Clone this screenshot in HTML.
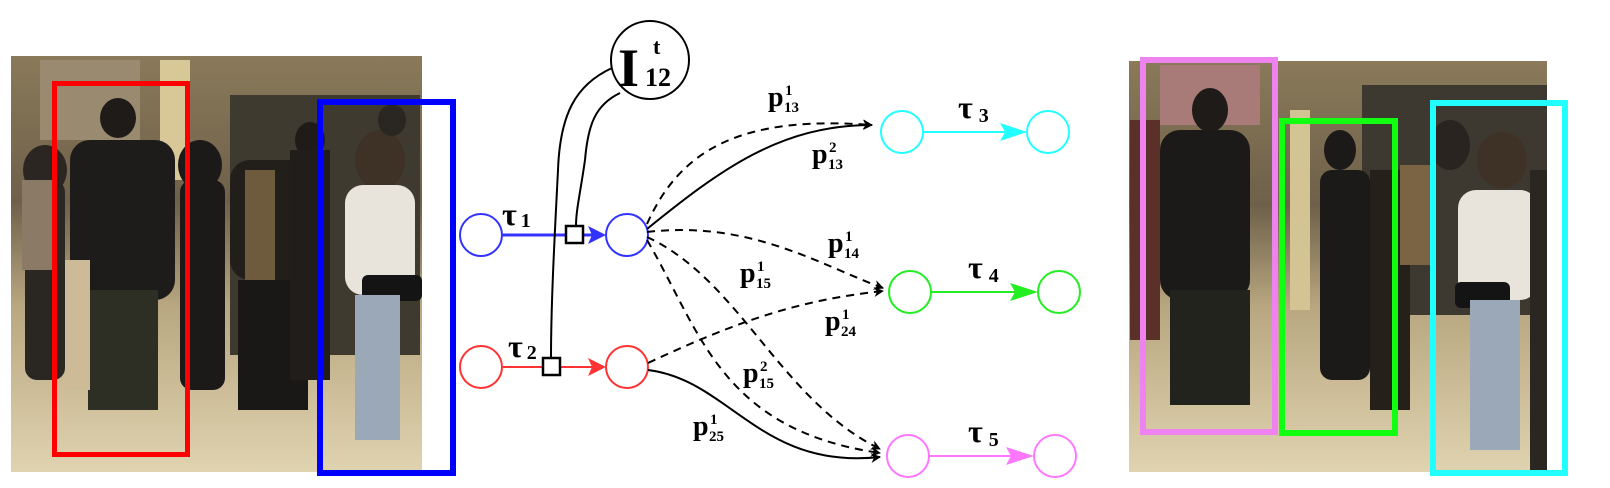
<!DOCTYPE html>
<html><head><meta charset="utf-8"><style>
html,body{margin:0;padding:0;background:#fff;width:1610px;height:488px;overflow:hidden}
svg{display:block}
text{font-family:"Liberation Serif",serif;font-weight:bold;fill:#000}
</style></head><body>
<svg width="1610" height="488" viewBox="0 0 1610 488" xmlns="http://www.w3.org/2000/svg">
<defs>
<linearGradient id="bg" x1="0" y1="0" x2="0" y2="1">
<stop offset="0" stop-color="#8a7a5a"/><stop offset="0.35" stop-color="#6e604a"/><stop offset="0.6" stop-color="#b8a780"/><stop offset="1" stop-color="#e0d3b0"/>
</linearGradient>
<marker id="ab" markerWidth="10" markerHeight="10" refX="9" refY="5" orient="auto" markerUnits="userSpaceOnUse"><path d="M0,0 L10,5 L0,10 L3,5z" fill="#000"/></marker>
</defs>

<rect x="11" y="56" width="411" height="416" fill="url(#bg)"/>
<rect x="40" y="60" width="100" height="80" fill="#9a8a70"/>
<rect x="230" y="95" width="190" height="260" fill="#3f3a30"/>
<rect x="160" y="60" width="30" height="120" fill="#d8c898"/>
<ellipse cx="45" cy="170" rx="22" ry="25" fill="#2c2622"/>
<rect x="25" y="180" width="40" height="200" rx="12" fill="#2a2622"/>
<rect x="22" y="180" width="30" height="90" fill="#8a7a66"/>
<ellipse cx="118" cy="118" rx="18" ry="20" fill="#1e1b18"/>
<rect x="70" y="140" width="105" height="160" rx="20" fill="#1e1c1a"/>
<rect x="88" y="290" width="70" height="120" fill="#2d2f24"/>
<rect x="65" y="260" width="25" height="130" fill="#cdbb98"/>
<ellipse cx="200" cy="165" rx="22" ry="25" fill="#1c1a18"/>
<rect x="180" y="180" width="45" height="210" rx="12" fill="#1c1a18"/>
<rect x="230" y="160" width="90" height="120" rx="20" fill="#221e1a"/>
<rect x="245" y="170" width="30" height="110" fill="#6e5a3c"/>
<rect x="238" y="280" width="70" height="130" fill="#1a1817"/>
<ellipse cx="310" cy="140" rx="15" ry="18" fill="#1e1b18"/>
<rect x="290" y="150" width="40" height="230" fill="#201d1a"/>
<ellipse cx="380" cy="160" rx="25" ry="30" fill="#3e3226"/>
<rect x="345" y="185" width="70" height="110" rx="18" fill="#e8e4dc"/>
<rect x="362" y="275" width="60" height="26" rx="6" fill="#141414"/>
<rect x="355" y="295" width="45" height="145" fill="#9aa8b8"/>
<ellipse cx="392" cy="120" rx="14" ry="16" fill="#2a2622"/>
<rect x="54.5" y="83.5" width="133" height="371" fill="none" stroke="#f00" stroke-width="5"/>
<rect x="320" y="102" width="133" height="371" fill="none" stroke="#00f" stroke-width="6"/>

<rect x="1129" y="61" width="418" height="411" fill="url(#bg)"/>
<rect x="1160" y="65" width="100" height="60" fill="#a87a78"/>
<rect x="1362" y="85" width="185" height="230" fill="#3d3830"/>
<rect x="1290" y="110" width="20" height="200" fill="#d4c494"/>
<rect x="1130" y="120" width="30" height="220" fill="#5a3028"/>
<ellipse cx="1210" cy="110" rx="18" ry="22" fill="#1e1b18"/>
<rect x="1160" y="130" width="90" height="170" rx="20" fill="#1c1a18"/>
<rect x="1170" y="290" width="80" height="115" fill="#23231d"/>
<ellipse cx="1340" cy="150" rx="16" ry="20" fill="#1c1a18"/>
<rect x="1320" y="170" width="50" height="210" rx="12" fill="#1c1a18"/>
<rect x="1370" y="170" width="40" height="240" fill="#252019"/>
<rect x="1400" y="165" width="30" height="100" fill="#7a6444"/>
<ellipse cx="1450" cy="145" rx="20" ry="25" fill="#2a2420"/>
<ellipse cx="1502" cy="160" rx="25" ry="28" fill="#3e3226"/>
<rect x="1458" y="190" width="80" height="110" rx="18" fill="#e8e4dc"/>
<rect x="1455" y="282" width="55" height="26" rx="6" fill="#141414"/>
<rect x="1470" y="300" width="50" height="150" fill="#9aa8b8"/>
<rect x="1530" y="170" width="17" height="300" fill="#2a2622"/>
<rect x="1143" y="60" width="132" height="372" fill="none" stroke="#ee82ee" stroke-width="6"/>
<rect x="1282" y="121" width="113" height="312" fill="none" stroke="#1f1" stroke-width="6"/>
<rect x="1433" y="103" width="132" height="370" fill="none" stroke="#2ff" stroke-width="6"/>

<g fill="none" stroke-width="2">
<circle cx="481" cy="235" r="21" stroke="#33f"/>
<circle cx="627" cy="235" r="21" stroke="#33f"/>
<circle cx="481" cy="367" r="21" stroke="#f33"/>
<circle cx="627" cy="367" r="21" stroke="#f33"/>
<circle cx="902" cy="132" r="21" stroke="#2ff"/>
<circle cx="1048" cy="132" r="21" stroke="#2ff"/>
<circle cx="910" cy="292" r="21" stroke="#2e2"/>
<circle cx="1059" cy="292" r="21" stroke="#2e2"/>
<circle cx="908" cy="456" r="21" stroke="#f7f"/>
<circle cx="1055" cy="456" r="21" stroke="#f7f"/>
<line x1="502" y1="235" x2="596" y2="235" stroke="#33f" stroke-width="3"/>
<line x1="502" y1="367" x2="596" y2="367" stroke="#f33"/>
<line x1="923" y1="132" x2="1017" y2="132" stroke="#2ff"/>
<line x1="931" y1="292" x2="1028" y2="292" stroke="#2e2"/>
<line x1="929" y1="456" x2="1024" y2="456" stroke="#f7f"/>
</g>
<path d="M588,226 L606,235 L588,244 L592,235z" fill="#33f"/>
<path d="M588,358 L606,367 L588,376 L592,367z" fill="#f33"/>
<path d="M1000,123 L1027,132 L1000,141 L1005,132z" fill="#2ff"/>
<path d="M1010,283 L1038,292 L1010,301 L1015,292z" fill="#2e2"/>
<path d="M1006,447 L1034,456 L1006,465 L1011,456z" fill="#f7f"/>

<circle cx="650" cy="60" r="39" fill="#fff" stroke="#000" stroke-width="2"/>
<g fill="none" stroke="#000" stroke-width="2">
<path d="M612,68 C575,85 560,115 558,170 C555,230 551,300 551,358"/>
<path d="M620,93 C595,105 588,125 585,160 C580,195 576,210 576,226"/>
</g>
<rect x="566" y="226" width="17" height="17" fill="#fff" stroke="#000" stroke-width="2.5"/>
<rect x="543" y="358" width="17" height="17" fill="#fff" stroke="#000" stroke-width="2.5"/>
<text x="618" y="86" font-size="54">I</text>
<text x="653" y="54" font-size="22">t</text>
<text x="645" y="86" font-size="26">12</text>

<g fill="none" stroke="#000" stroke-width="2" marker-end="url(#ab)">
<path d="M647,224 C680,150 740,115 872,125" stroke-dasharray="8,6"/>
<path d="M647,229 C720,170 780,125 872,125"/>
<path d="M647,232 C750,220 820,265 883,288" stroke-dasharray="8,6"/>
<path d="M647,237 C740,280 780,400 880,449" stroke-dasharray="8,6"/>
<path d="M647,240 C700,330 720,430 880,453" stroke-dasharray="8,6"/>
<path d="M648,363 C740,320 800,300 883,291" stroke-dasharray="8,6"/>
<path d="M648,370 C730,380 760,470 880,457"/>
</g>

<g font-size="32">
<text x="502" y="225">τ<tspan font-size="20" dx="4" dy="2">1</tspan></text>
<text x="508" y="357">τ<tspan font-size="20" dx="4" dy="2">2</tspan></text>
<text x="958" y="118">τ<tspan font-size="20" dx="6" dy="4">3</tspan></text>
<text x="968" y="278">τ<tspan font-size="20" dx="6" dy="4">4</tspan></text>
<text x="968" y="442">τ<tspan font-size="20" dx="6" dy="4">5</tspan></text>
</g>
<g font-size="28">
<text x="768" y="106">p</text><text x="785" y="95" font-size="15">1</text><text x="784" y="112" font-size="15">13</text>
<text x="812" y="163">p</text><text x="829" y="152" font-size="15">2</text><text x="828" y="169" font-size="15">13</text>
<text x="828" y="252">p</text><text x="845" y="241" font-size="15">1</text><text x="844" y="258" font-size="15">14</text>
<text x="740" y="282">p</text><text x="757" y="271" font-size="15">1</text><text x="756" y="288" font-size="15">15</text>
<text x="825" y="330">p</text><text x="842" y="319" font-size="15">1</text><text x="841" y="336" font-size="15">24</text>
<text x="743" y="382">p</text><text x="760" y="371" font-size="15">2</text><text x="759" y="388" font-size="15">15</text>
<text x="693" y="435">p</text><text x="710" y="424" font-size="15">1</text><text x="709" y="441" font-size="15">25</text>
</g>
</svg>
</body></html>
